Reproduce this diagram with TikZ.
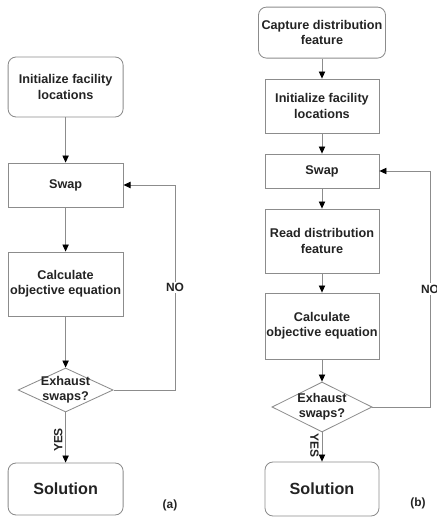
\documentclass[tikz,border=0pt]{standalone}
\usepackage{fontspec}
\setmainfont{Liberation Sans}
\usepackage{tikz}
\usetikzlibrary{arrows.meta, shapes.geometric}
\definecolor{edgeGray}{RGB}{140, 140, 140}
\definecolor{textDark}{RGB}{35, 35, 35}

\begin{document}
\begin{tikzpicture}[>={Triangle[length=5pt, width=4.5pt, color=black]},
    font=\fontsize{9}{10.8}\selectfont\bfseries, text=textDark,
    box/.style={draw=edgeGray, line width=0.6pt, align=center,
                minimum width=2.875cm, inner xsep=1pt},
    terminal/.style={box, rounded corners=0.2cm},
    decision/.style={draw=edgeGray, line width=0.6pt, diamond, inner sep=0pt},
    flow/.style={->, draw=edgeGray, line width=0.6pt},
    branch/.style={fill=white, inner sep=1pt, font=\fontsize{8.5}{10}\selectfont\bfseries},
    caption/.style={font=\fontsize{8.5}{10}\selectfont\bfseries}]
  \useasboundingbox (0, 0) rectangle (10.9, 12.925);

  % Flow (a)
  \node[terminal, minimum height=1.5cm] (init_a) at (1.64, 10.75)
    {Initialize facility\\locations};
  \node[box, minimum height=1.1cm] (swap_a) at (1.64, 8.3) {Swap};
  \node[box, minimum height=1.6cm] (calc_a) at (1.64, 5.825)
    {Calculate\\objective equation};
  \node[decision, minimum width=2.375cm, minimum height=1.1cm,
        label={[align=center]center:{Exhaust\\swaps?}}]
    (dec_a) at (1.64, 3.175) {};
  \node[terminal, minimum height=1.3cm,
        font=\fontsize{11.5}{13}\selectfont\bfseries] (sol_a) at (1.64, 0.7) {Solution};
  \coordinate (loop_a) at (4.375, 8.3);
  \node[caption] (cap_a) at (4.25, 0.3) {(a)};

  \draw[flow] (init_a) -- (swap_a);
  \draw[flow] (swap_a) -- (calc_a);
  \draw[flow] (calc_a) -- (dec_a);
  \draw[flow] (dec_a) -- node[branch, rotate=90, anchor=south, pos=0.55,
    fill=none, inner sep=2pt] {YES} (sol_a);
  \draw[flow] (dec_a.east) -| node[branch, pos=0.75] {NO} (loop_a) -- (swap_a.east);

  % Flow (b)
  \node[terminal, minimum width=3.175cm, minimum height=1.275cm] (capture_b)
    at (8.05, 12.11) {Capture distribution\\feature};
  \node[box, minimum width=2.85cm, minimum height=1.35cm] (init_b) at (8.05, 10.275)
    {Initialize facility\\locations};
  \node[box, minimum width=2.85cm, minimum height=0.85cm] (swap_b) at (8.05, 8.65) {Swap};
  \node[box, minimum width=2.85cm, minimum height=1.6cm] (read_b) at (8.05, 6.9)
    {Read distribution\\feature};
  \node[box, minimum width=2.85cm, minimum height=1.65cm] (calc_b) at (8.05, 4.775)
    {Calculate\\objective equation};
  \node[decision, minimum width=2.5cm, minimum height=1.25cm,
        label={[align=center]center:{Exhaust\\swaps?}}]
    (dec_b) at (8.05, 2.75) {};
  \node[terminal, minimum width=2.85cm, minimum height=1.35cm,
        font=\fontsize{11.5}{13}\selectfont\bfseries] (sol_b) at (8.05, 0.7) {Solution};
  \coordinate (loop_b) at (10.75, 8.65);
  \node[caption] (cap_b) at (10.45, 0.35) {(b)};

  \draw[flow] (capture_b) -- (init_b);
  \draw[flow] (init_b) -- (swap_b);
  \draw[flow] (swap_b) -- (read_b);
  \draw[flow] (read_b) -- (calc_b);
  \draw[flow] (calc_b) -- (dec_b);
  \draw[flow] (dec_b) -- node[branch, rotate=-90, anchor=north, pos=0.45,
    fill=none, inner sep=2pt] {YES} (sol_b);
  \draw[flow] (dec_b.east) -| node[branch, pos=0.75] {NO} (loop_b) -- (swap_b.east);
\end{tikzpicture}
\end{document}
